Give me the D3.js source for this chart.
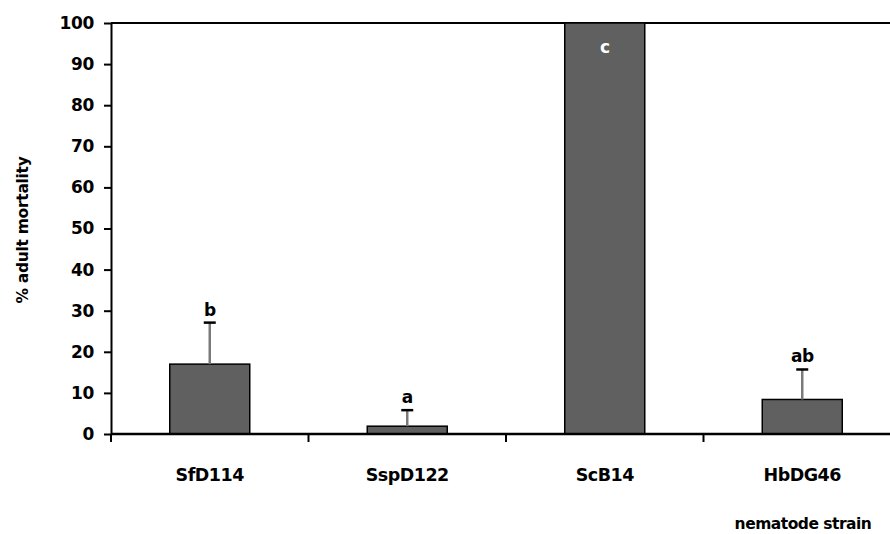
<!DOCTYPE html>
<html>
<head>
<meta charset="utf-8">
<script src="https://cdn.jsdelivr.net/npm/d3@7"></script>
<style>
  body { margin: 0; background: #fff; }
  text { font-family: "DejaVu Sans", Verdana, sans-serif; font-weight: bold; }
</style>
</head>
<body>
<div id="vis"></div>
<script>
var strains = ['SfD114', 'SspD122', 'ScB14', 'HbDG46'];
var mortality = [17, 1.9, 100, 8.4];
var errors = [10.1, 3.9, 0, 7.3];
var letters = ['b', 'a', 'c', 'ab'];
var yTicks = [0, 10, 20, 30, 40, 50, 60, 70, 80, 90, 100];

var width = 890;
var height = 534;
var margin = { left: 111, top: 23 };

var svg = d3.select('#vis')
  .append('svg')
  .attr('width', width)
  .attr('height', height);

var x = d3.scaleBand()
  .domain(strains)
  .range([margin.left, margin.left + 4 * 197.5]);

var y = d3.scaleLinear()
  .domain([0, 100])
  .range([434, margin.top]);

var barW = 80;

function mid(d) { return x(d) + x.bandwidth() / 2; }

function errTop(d) {
  var i = strains.indexOf(d);
  return y(mortality[i] + errors[i]);
}

// top frame line
svg.append('line')
  .attr('x1', margin.left).attr('x2', width)
  .attr('y1', y(100)).attr('y2', y(100))
  .attr('stroke', '#000').attr('stroke-width', 2);

// bars
svg.selectAll('.bar')
  .data(strains)
  .enter().append('rect')
  .attr('class', 'bar')
  .attr('x', function (d) { return mid(d) - barW / 2; })
  .attr('y', function (d, i) { return y(mortality[i]); })
  .attr('width', barW)
  .attr('height', function (d, i) { return y(0) - y(mortality[i]); })
  .attr('fill', '#606060')
  .attr('stroke', '#000')
  .attr('stroke-width', 1.5);

// error bars (upper half only)
var eb = svg.selectAll('.err')
  .data(strains.filter(function (d, i) { return errors[i] > 0; }))
  .enter().append('g')
  .attr('class', 'err');

eb.append('line')
  .attr('x1', mid).attr('x2', mid)
  .attr('y1', function (d) { return y(mortality[strains.indexOf(d)]); })
  .attr('y2', errTop)
  .attr('stroke', '#7a7a7a')
  .attr('stroke-width', 2.5);

eb.append('line')
  .attr('x1', function (d) { return mid(d) - 6; })
  .attr('x2', function (d) { return mid(d) + 6; })
  .attr('y1', errTop).attr('y2', errTop)
  .attr('stroke', '#000')
  .attr('stroke-width', 2.5);

// significance letters
svg.selectAll('.letter')
  .data(strains)
  .enter().append('text')
  .attr('class', 'letter')
  .attr('x', mid)
  .attr('y', function (d, i) {
    if (mortality[i] >= 100) return y(mortality[i]) + 30;
    return errTop(d) - 7;
  })
  .attr('text-anchor', 'middle')
  .attr('font-size', 17)
  .attr('letter-spacing', -0.5)
  .attr('fill', function (d, i) { return mortality[i] >= 100 ? '#fff' : '#000'; })
  .text(function (d, i) { return letters[i]; });

// y axis
var yAxis = svg.append('g')
  .attr('transform', 'translate(' + margin.left + ',0)')
  .call(d3.axisLeft(y).tickValues(yTicks).tickSize(7).tickPadding(10).tickSizeOuter(0));
yAxis.select('.domain').attr('stroke-width', 2);
yAxis.selectAll('.tick line').attr('stroke-width', 2);
yAxis.selectAll('.tick text')
  .attr('font-size', 17)
  .attr('letter-spacing', -0.3)
  .attr('font-family', '"DejaVu Sans", Verdana, sans-serif')
  .attr('font-weight', 'bold');

// x axis baseline
svg.append('line')
  .attr('x1', margin.left).attr('x2', width)
  .attr('y1', y(0)).attr('y2', y(0))
  .attr('stroke', '#000').attr('stroke-width', 2.5);

// category separators
svg.selectAll('.xtick')
  .data(strains)
  .enter().append('line')
  .attr('class', 'xtick')
  .attr('x1', function (d) { return x(d); })
  .attr('x2', function (d) { return x(d); })
  .attr('y1', y(0))
  .attr('y2', y(0) + 8)
  .attr('stroke', '#000')
  .attr('stroke-width', 2);

// category labels
svg.selectAll('.xlabel')
  .data(strains)
  .enter().append('text')
  .attr('class', 'xlabel')
  .attr('x', mid)
  .attr('y', 481)
  .attr('text-anchor', 'middle')
  .attr('font-size', 17.5)
  .attr('letter-spacing', -0.5)
  .text(function (d) { return d; });

// axis titles
svg.append('text')
  .attr('x', 803)
  .attr('y', 529)
  .attr('text-anchor', 'middle')
  .attr('font-size', 15.5)
  .attr('letter-spacing', -0.5)
  .text('nematode strain');

svg.append('text')
  .attr('transform', 'translate(28,230) rotate(-90)')
  .attr('text-anchor', 'middle')
  .attr('font-size', 15.5)
  .attr('letter-spacing', -0.3)
  .text('% adult mortality');
</script>
</body>
</html>
